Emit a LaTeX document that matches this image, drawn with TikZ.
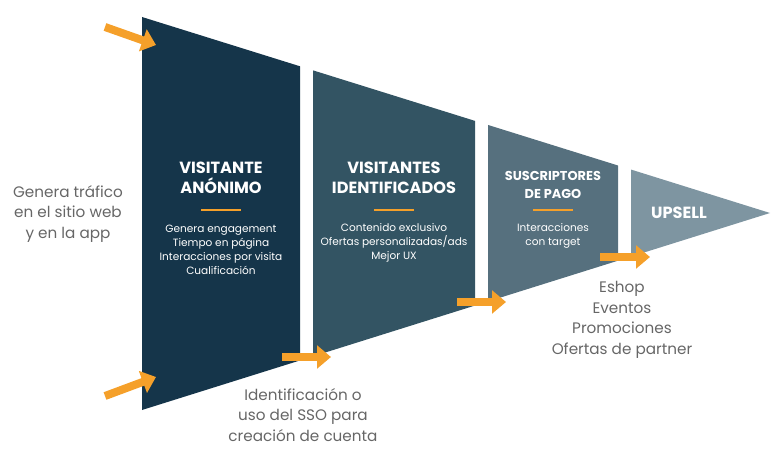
\documentclass[tikz,border=0pt]{standalone}
\usepackage{fontspec}
\setmainfont{Poppins}
\usetikzlibrary{arrows.meta}
\definecolor{segA}{HTML}{15354A}
\definecolor{segB}{HTML}{335463}
\definecolor{segC}{HTML}{56707E}
\definecolor{segD}{HTML}{7E95A1}
\definecolor{flecha}{HTML}{F5A02A}
\definecolor{texto}{HTML}{666666}
\begin{document}
\begin{tikzpicture}[x=0.03cm,y=-0.03cm,
    % estilos
    titulo/.style = {text=white,font=\bfseries\fontsize{13.8}{17}\selectfont,align=center},
    cuerpo/.style = {text=white,font=\fontsize{9}{12}\selectfont,align=center},
    fuera/.style = {text=texto,font=\fontsize{13}{17.5}\selectfont,align=center},
    raya/.style = {draw=flecha,line width=1.2pt},
    flechaN/.style = {draw=flecha,line width=0.24cm,-{Triangle[width=0.68cm,length=0.42cm]}}
    ]
    \useasboundingbox (0,0) rectangle (780,457);

    % --- segmentos del embudo ---
    \def\top#1{{17+0.312*(#1-142)}}
    \def\bot#1{{410-0.3137*(#1-142)}}
    \fill[segA] (142,\top{142}) -- (300,\top{300}) -- (300,\bot{300}) -- (142,\bot{142}) -- cycle;
    \fill[segB] (313,\top{313}) -- (475,\top{475}) -- (475,\bot{475}) -- (313,\bot{313}) -- cycle;
    \fill[segC] (488,\top{488}) -- (618,\top{618}) -- (618,\bot{618}) -- (488,\bot{488}) -- cycle;
    \fill[segD] (631,\top{631}) -- (770,213) -- (631,\bot{631}) -- cycle;

    % --- textos de los segmentos ---
    \node[titulo] (visA) at (221,178) {VISITANTE\\ANÓNIMO};
    \draw[raya] (201,210) -- (241,210);
    \node[cuerpo] (cuerA) at (221,250) {Genera engagement\\Tiempo en página\\Interacciones por visita\\Cualificación};

    \node[titulo] (visB) at (394,178) {VISITANTES\\IDENTIFICADOS};
    \draw[raya] (374,210) -- (414,210);
    \node[cuerpo] (cuerB) at (394,243) {Contenido exclusivo\\Ofertas personalizadas/ads\\Mejor UX};

    \node[titulo,font=\bfseries\fontsize{11}{16}\selectfont] (visC) at (553,185) {SUSCRIPTORES\\DE PAGO};
    \draw[raya] (533,210) -- (573,210);
    \node[cuerpo] (cuerC) at (553,236) {Interacciones\\con target};

    \node[titulo] (upsell) at (679,213) {UPSELL};

    % --- textos externos ---
    \node[fuera] (trafico) at (68,214) {Genera tráfico\\en el sitio web\\y en la app};
    \node[fuera] (ident) at (303,415) {Identificación o\\uso del SSO para\\creación de cuenta};
    \node[fuera] (eshop) at (622,320) {Eshop\\Eventos\\Promociones\\Ofertas de partner};

    % --- flechas ---
    \coordinate (fA1) at (105,27);  \coordinate (fA2) at (156,45);
    \coordinate (fB1) at (105,396); \coordinate (fB2) at (156,377);
    \coordinate (fC1) at (282,357); \coordinate (fC2) at (331,357);
    \coordinate (fD1) at (457,302); \coordinate (fD2) at (506,302);
    \coordinate (fE1) at (600,257); \coordinate (fE2) at (650,257);
    \foreach \a/\b in {fA1/fA2,fB1/fB2,fC1/fC2,fD1/fD2,fE1/fE2}
        \draw[flechaN] (\a) -- (\b);
\end{tikzpicture}
\end{document}
